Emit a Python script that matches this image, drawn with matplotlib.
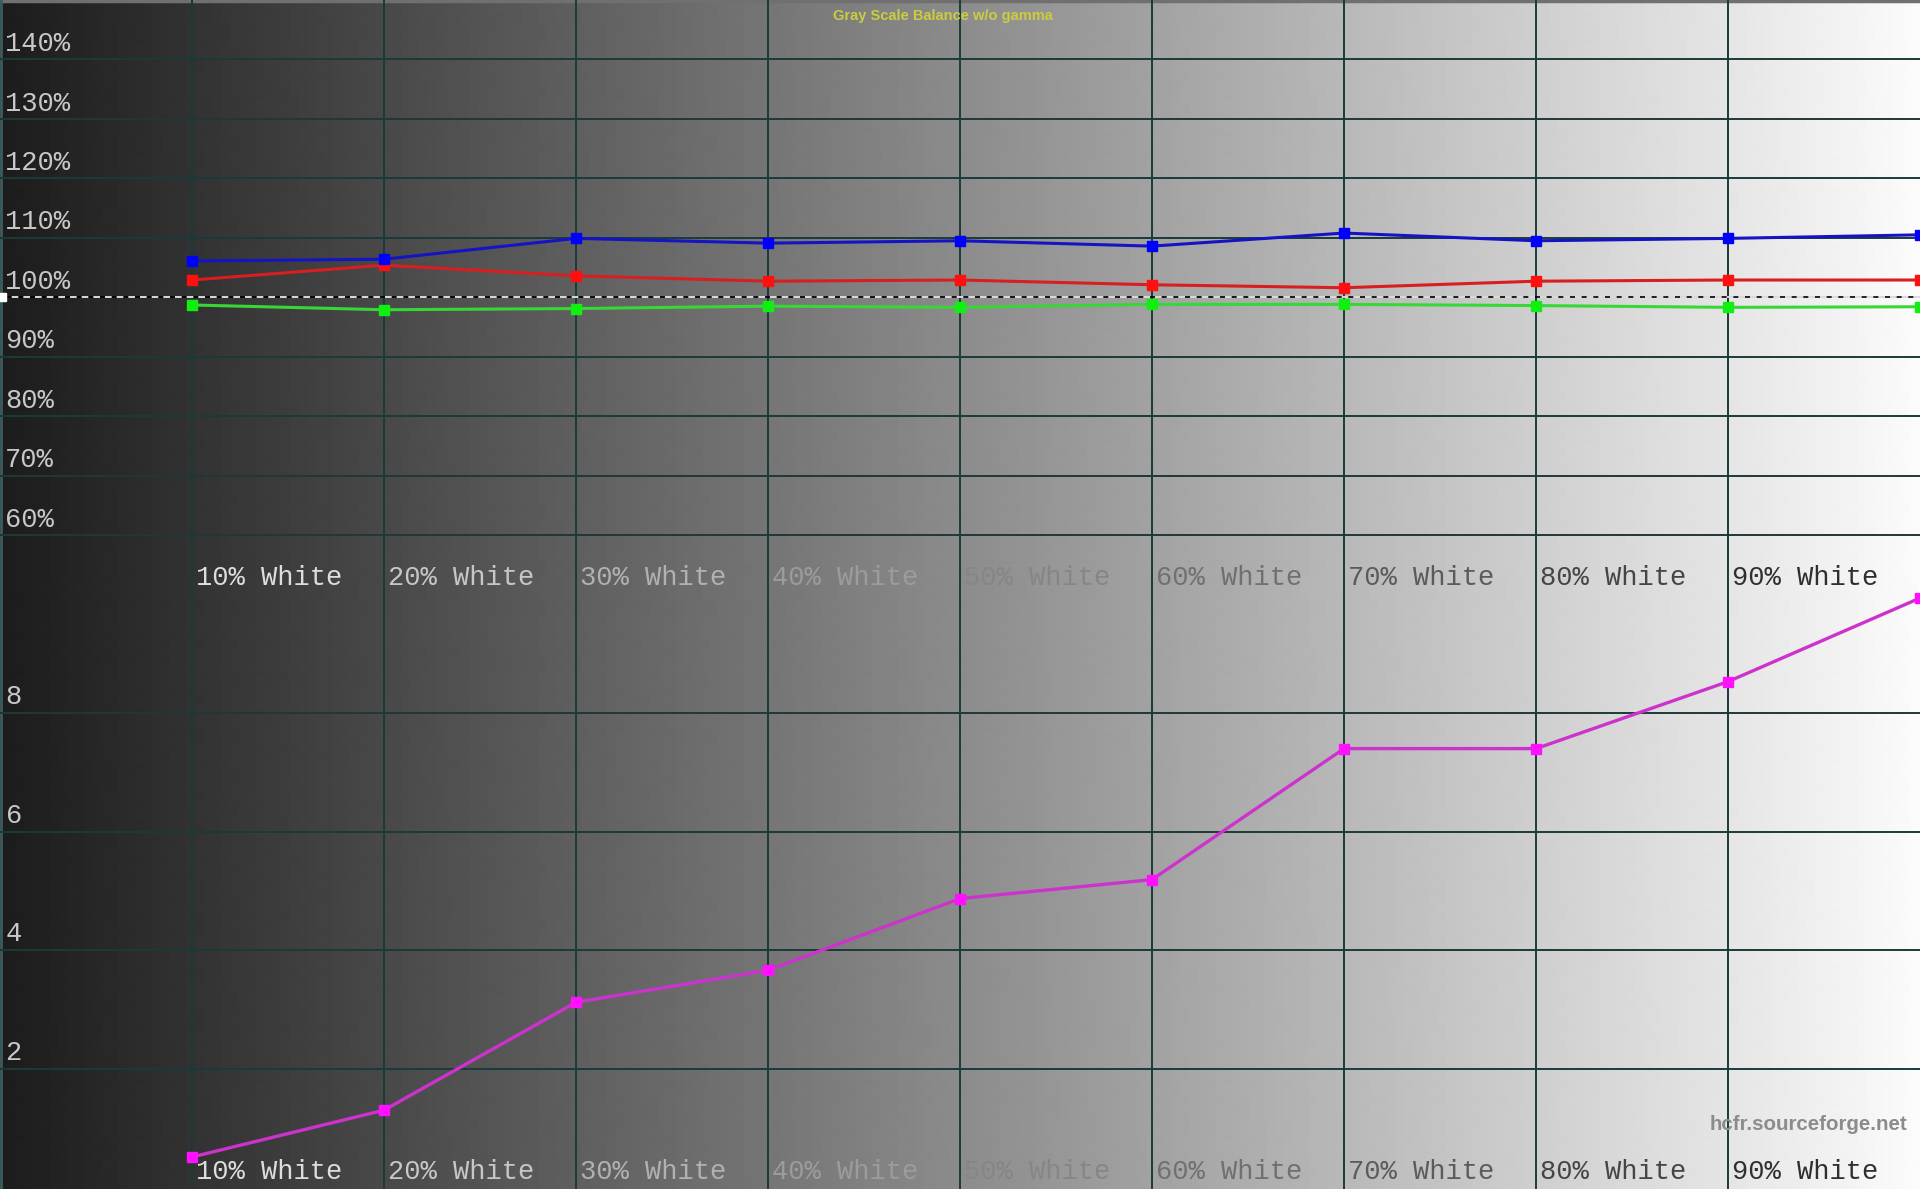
"""
plot.py - HCFR style "Gray Scale Balance w/o gamma" chart
RGB levels (top) and grayscale deltaE (bottom), per % white step.
"""
import numpy as np
import matplotlib
matplotlib.use("Agg")
import matplotlib.pyplot as plt

# ---------- data ----------
levels = [10, 20, 30, 40, 50, 60, 70, 80, 90, 100]
red_pct = [102.9, 105.4, 103.6, 102.7, 102.9, 102.1, 101.6, 102.7, 102.9, 102.9]
green_pct = [98.7, 97.9, 98.1, 98.5, 98.3, 98.8, 98.8, 98.6, 98.3, 98.4]
blue_pct = [106.1, 106.4, 109.9, 109.1, 109.5, 108.6, 110.8, 109.5, 109.9, 110.5]
delta_e = [0.51, 1.30, 3.12, 3.66, 4.87, 5.19, 7.40, 7.40, 8.53, 9.94]

x_labels = ["10% White", "20% White", "30% White", "40% White", "50% White",
            "60% White", "70% White", "80% White", "90% White"]
x_label_pos = [10, 20, 30, 40, 50, 60, 70, 80, 90]
top_ticks = [60, 70, 80, 90, 100, 110, 120, 130, 140]
top_tick_labels = ["60%", "70%", "80%", "90%", "100%", "110%", "120%", "130%", "140%"]
bot_ticks = [2, 4, 6, 8]
bot_tick_labels = ["2", "4", "6", "8"]

TITLE = "Gray Scale Balance w/o gamma"
WATERMARK = "hcfr.sourceforge.net"

GRID = "#1c3a3a"
MONO = "Liberation Mono"
SANS = "Liberation Sans"

fig = plt.figure(figsize=(19.2, 11.89), dpi=100)

# ---------- gradient background ----------
bg = fig.add_axes([0, 0, 1, 1])
grad = np.linspace(0.11, 0.985, 1920)[None, :]
bg.imshow(grad, cmap="gray", vmin=0, vmax=1, aspect="auto",
          extent=(0, 1, 0, 1), interpolation="bilinear")
bg.set_xlim(0, 1); bg.set_ylim(0, 1)
bg.axhline(0.9992, color="#707070", lw=2.5)
bg.axvline(0.0005, color="#3e5c5c", lw=2)
bg.axis("off")

top = fig.add_axes([0, 0.5, 1, 0.5])
bot = fig.add_axes([0, 0.0, 1, 0.5])
for ax in (top, bot):
    ax.set_facecolor("none")
    ax.set_xlim(0, 100)
    for s in ax.spines.values():
        s.set_visible(False)
    ax.set_xticks([]); ax.set_yticks([])
    for xv in x_label_pos:
        ax.axvline(xv, color=GRID, lw=1.4, zorder=1)
top.set_ylim(50, 150)
bot.set_ylim(-0.03, 10)


def label_color(lvl):
    g = 0.95 - 0.85 * lvl / 100
    return (g, g, g)


# ---------- top panel: RGB balance ----------
for v, t in zip(top_ticks, top_tick_labels):
    if v != 100:
        top.axhline(v, color=GRID, lw=1.4, zorder=1)
    top.annotate(t, xy=(0, v), xycoords="data", xytext=(3.5, 6), textcoords="offset points",
                 va="baseline", ha="left", fontsize=19.5, family=MONO, color="#c8c8c8")
top.axhline(100, color="black", lw=1.2, zorder=2)
top.axhline(100, color="white", lw=1.2, ls=(0, (4, 3)), zorder=2)
top.plot([0.12], [100], marker="s", ms=6, color="white", mec="white", zorder=3)

for vals, lc, mc in [(red_pct, "#d81e1e", "#ff1010"),
                     (green_pct, "#36d836", "#10f010"),
                     (blue_pct, "#1414c4", "#0000ff")]:
    top.plot(levels, vals, color=lc, lw=2.2, marker="s", ms=7.5, mfc=mc, mec=mc,
             zorder=4, clip_on=False)

for xv, t in zip(x_label_pos, x_labels):
    for ax in (top, bot):
        ax.annotate(t, xy=(xv, 0), xycoords=("data", "axes fraction"), xytext=(3, 7),
                    textcoords="offset points", va="baseline", ha="left",
                    fontsize=19.5, family=MONO, color=label_color(xv))

# ---------- bottom panel: delta E ----------
for v, t in zip(bot_ticks, bot_tick_labels):
    bot.axhline(v, color=GRID, lw=1.4, zorder=1)
    bot.annotate(t, xy=(0, v), xycoords="data", xytext=(4, 6.5), textcoords="offset points",
                 va="baseline", ha="left", fontsize=19.5, family=MONO, color="#c8c8c8")
bot.plot(levels, delta_e, color="#cc33cc", lw=2.4, marker="s", ms=7.5,
         mfc="#ff10ff", mec="#ff10ff", zorder=4, clip_on=False)

fig.text(943 / 1920, 1 - 16 / 1189, TITLE, ha="center", va="center",
         fontsize=10.5, family=SANS, fontweight="bold", color="#cccc40")
fig.text(1907 / 1920, 1 - 1125 / 1189, WATERMARK, ha="right", va="center",
         fontsize=14.8, family=SANS, fontweight="bold", color="#8c8c8c")

fig.savefig("out.png", dpi=100)
